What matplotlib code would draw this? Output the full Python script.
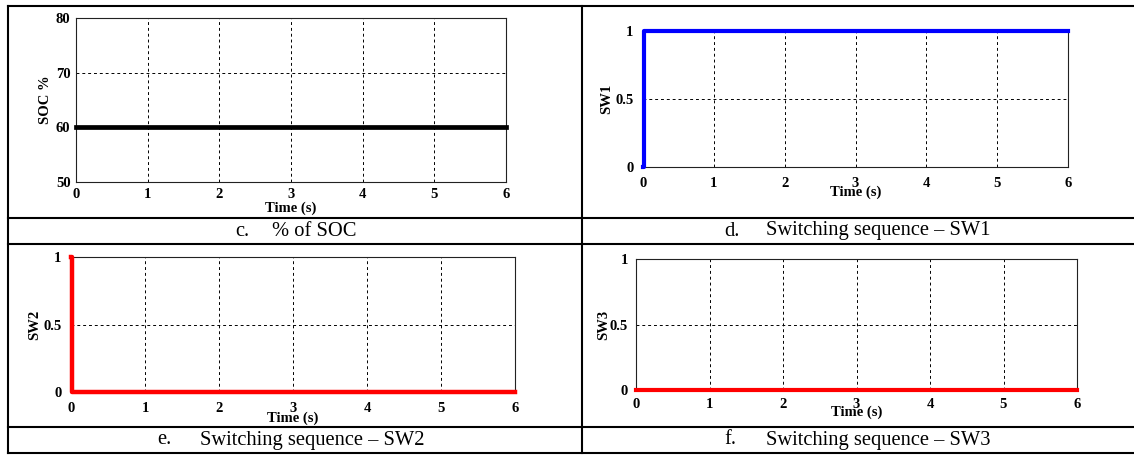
import matplotlib
matplotlib.use("Agg")
import matplotlib.pyplot as plt
from matplotlib.lines import Line2D

plt.rcParams['font.family'] = ['Liberation Serif', 'DejaVu Serif']

# -------------------------
# data
# -------------------------
soc_time = [0, 6]
soc_pct = [60, 60]

sw_time = [0, 0.02, 0.02, 6]
sw1 = [0, 0, 1, 1]
sw2 = [1, 1, 0, 0]
sw3_time = [0, 6]
sw3 = [0, 0]

x_ticks = [0, 1, 2, 3, 4, 5, 6]
soc_ticks = [50, 60, 70, 80]
sw_ticks = [0, 0.5, 1]
sw_tick_labels = ['0', '0.5', '1']

captions = [('c.', '% of SOC'),
            ('d.', 'Switching sequence \u2013 SW1'),
            ('e.', 'Switching sequence \u2013 SW2'),
            ('f.', 'Switching sequence \u2013 SW3')]

W, H = 1134, 457
fig = plt.figure(figsize=(W / 100, H / 100), dpi=100)


def box(l, r, t, b):
    # pixel box (top-left origin) -> figure fraction
    return [l / W, 1 - b / H, (r - l) / W, (b - t) / H]


def style(ax, ylim, yticks, ylabels, ylab, ylab_x, xlab_y, pad):
    ax.set_xlim(0, 6)
    ax.set_ylim(*ylim)
    ax.set_xticks(x_ticks)
    ax.set_yticks(yticks)
    ax.set_yticklabels(ylabels)
    ax.tick_params(length=0, labelsize=10.5, pad=pad)
    for lab in ax.get_xticklabels() + ax.get_yticklabels():
        lab.set_fontweight('bold')
    ax.grid(True, color='black', lw=0.7, linestyle=(0, (3, 3)))
    for s in ax.spines.values():
        s.set_linewidth(0.8)
        s.set_color('#222222')
    # Time label sits right under the tick labels, as in the source figure
    ax.set_xlabel('Time (s)', fontsize=10.5, fontweight='bold', va='center')
    ax.xaxis.set_label_coords(0.5, xlab_y)
    ax.set_ylabel(ylab, fontsize=10.5, fontweight='bold', va='center')
    ax.yaxis.set_label_coords(ylab_x, 0.5)


# c. SOC
ax_c = fig.add_axes(box(76, 506, 18, 182))
ax_c.plot(soc_time, soc_pct, color='black', lw=3.4, clip_on=False, zorder=5)
style(ax_c, (50, 80), soc_ticks, [str(v) for v in soc_ticks], 'SOC %', -0.07, -0.16, 4)

# d. SW1
ax_d = fig.add_axes(box(643, 1068, 31, 167))
ax_d.plot(sw_time, sw1, color='#0000ff', lw=3.0, clip_on=False, zorder=5)
style(ax_d, (0, 1), sw_ticks, sw_tick_labels, 'SW1', -0.085, -0.185, 7)

# e. SW2
ax_e = fig.add_axes(box(71, 515, 257, 392))
ax_e.plot(sw_time, sw2, color='#ff0000', lw=3.2, clip_on=False, zorder=5)
style(ax_e, (0, 1), sw_ticks, sw_tick_labels, 'SW2', -0.081, -0.193, 7)

# f. SW3
ax_f = fig.add_axes(box(636, 1077, 259, 390))
ax_f.plot(sw3_time, sw3, color='#ff0000', lw=3.0, clip_on=False, zorder=5)
style(ax_f, (0, 1), sw_ticks, sw_tick_labels, 'SW3', -0.073, -0.168, 6)

# -------------------------
# table frame and captions
# -------------------------
def hline(y, x0=8, x1=W):
    fig.add_artist(Line2D([x0 / W, x1 / W], [1 - y / H, 1 - y / H],
                          color='black', lw=1.5, transform=fig.transFigure))


def vline(x, y0=6, y1=453):
    fig.add_artist(Line2D([x / W, x / W], [1 - y0 / H, 1 - y1 / H],
                          color='black', lw=1.5, transform=fig.transFigure))


for y in [6, 218, 244, 427, 453]:
    hline(y)
vline(8)
vline(582)

cap_pos = [(235, 272, 231), (724, 766, 231), (157, 200, 440), (724, 766, 440)]
for (lab, txt), (xl, xt, yc) in zip(captions, cap_pos):
    fig.text(xl / W, 1 - yc / H, lab, fontsize=14.8, ha='left', va='center')
    fig.text(xt / W, 1 - yc / H, txt, fontsize=14.8, ha='left', va='center')

fig.savefig('out.png', dpi=100)
